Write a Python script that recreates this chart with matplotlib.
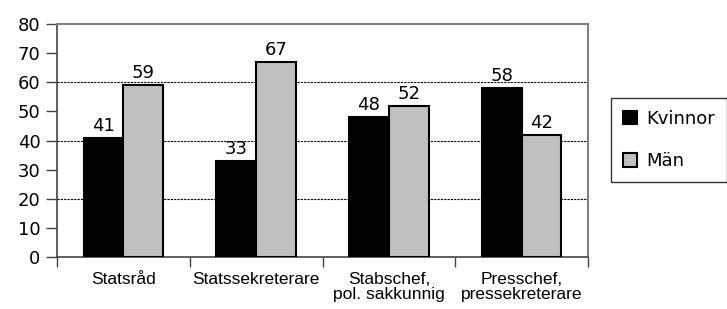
import matplotlib.pyplot as plt
import numpy as np

categories = ["Statsråd", "Statssekreterare", "Stabschef,\npol. sakkunnig", "Presschef,\npressekreterare"]
kvinnor = [41, 33, 48, 58]
man = [59, 67, 52, 42]

fig = plt.figure(figsize=(7.27, 3.09), dpi=100)
ax = fig.add_axes([57 / 727, 1 - 257 / 309, (588 - 57) / 727, (257 - 24) / 309])

x = np.arange(len(categories))
w = 0.30
b1 = ax.bar(x - w / 2, kvinnor, w, color="black", edgecolor="black", linewidth=1.5, label="Kvinnor", zorder=3)
b2 = ax.bar(x + w / 2, man, w, color="#c0c0c0", edgecolor="black", linewidth=1.5, label="Män", zorder=3)

for bars in (b1, b2):
    for r in bars:
        ax.text(r.get_x() + r.get_width() / 2, r.get_height() + 1, str(int(r.get_height())),
                ha="center", va="bottom", fontsize=13, family="DejaVu Sans")

ax.set_xlim(-0.5, len(categories) - 0.5)
ax.set_ylim(0, 80)
ax.set_yticks(range(0, 81, 10))
ax.tick_params(axis="y", labelsize=13, length=8, width=1, color="#444444", direction="out", pad=4)
ax.set_xticks(np.arange(len(categories) + 1) - 0.5)
ax.set_xticklabels([])
ax.set_xticks(x, minor=True)
ax.set_xticklabels(categories, minor=True, fontsize=12.5, family=["Liberation Sans", "DejaVu Sans"],
                   linespacing=1.0)
ax.tick_params(axis="x", which="major", length=7, width=1, color="#444444", direction="out")
ax.tick_params(axis="x", which="minor", length=0, pad=11)

for y in (20, 40, 60):
    ax.axhline(y, color="black", linestyle=(0, (2, 1)), linewidth=0.8, zorder=1)

for s in ("left", "bottom"):
    ax.spines[s].set_color("#444444")
    ax.spines[s].set_linewidth(1.2)
for s in ("top", "right"):
    ax.spines[s].set_color("#808080")
    ax.spines[s].set_linewidth(1.5)

leg = ax.legend(loc="upper left", bbox_to_anchor=(611 / 727, 1 - 98 / 309), bbox_transform=fig.transFigure,
                fontsize=13, frameon=True, fancybox=False, edgecolor="black", handlelength=0.8,
                handleheight=0.8, handletextpad=0.5, labelspacing=1.35, borderpad=0.65, borderaxespad=0)
leg.get_frame().set_linewidth(1)

fig.savefig("out.png", dpi=100)
